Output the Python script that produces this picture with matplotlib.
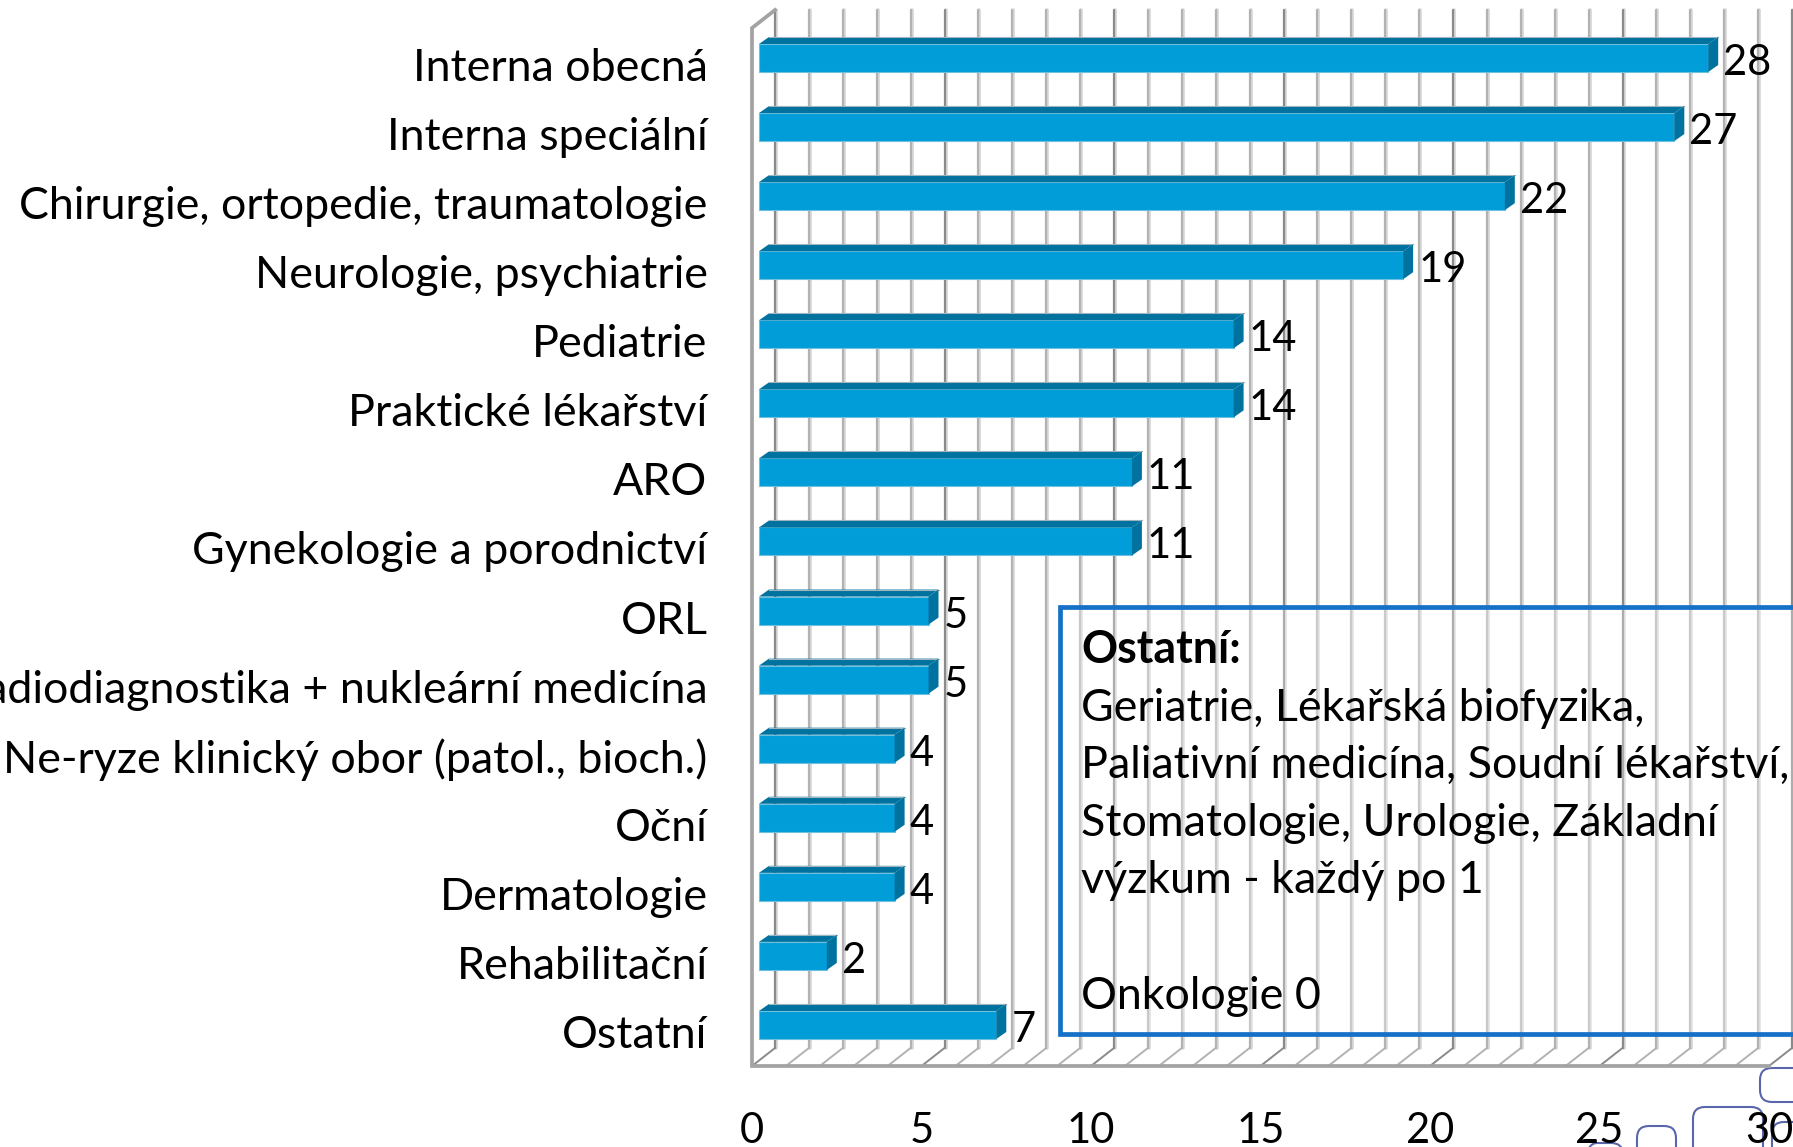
"""Doctors by specialty, pseudo-3D horizontal bars in the Excel style."""

import matplotlib

matplotlib.use("Agg")

import matplotlib.pyplot as plt
from matplotlib.patches import FancyBboxPatch, Rectangle
from matplotlib.transforms import ScaledTranslation

categories = [
    "Interna obecná",
    "Interna speciální",
    "Chirurgie, ortopedie, traumatologie",
    "Neurologie, psychiatrie",
    "Pediatrie",
    "Praktické lékařství",
    "ARO",
    "Gynekologie a porodnictví",
    "ORL",
    "Radiodiagnostika + nukleární medicína",
    "Ne-ryze klinický obor (patol., bioch.)",
    "Oční",
    "Dermatologie",
    "Rehabilitační",
    "Ostatní",
]
values = [28, 27, 22, 19, 14, 14, 11, 11, 5, 5, 4, 4, 4, 2, 7]
x_ticks = [0, 5, 10, 15, 20, 25, 30]
note_title = "Ostatní:"
note_lines = [
    "Geriatrie, Lékařská biofyzika,",
    "Paliativní medicína, Soudní lékařství,",
    "Stomatologie, Urologie, Základní",
    "výzkum - každý po 1",
    "",
    "Onkologie 0",
]

W, H = 1793, 1147
FONT = "Lato"
FS = 32.2
FS_NUM = 30

# plot frame in pixels
LEFT, RIGHT, TOP, FLOOR = 752, 1769, 28, 1066
UNIT_X = (RIGHT - LEFT) / 30
UNIT_Y = 69.07
FIRST_Y = 58

fig = plt.figure(figsize=(W / 100, H / 100), dpi=100, facecolor="white")
plt.rcParams["font.family"] = FONT


def overlay(z):
    o = fig.add_axes([0, 0, 1, 1], zorder=z)
    o.set_xlim(0, W)
    o.set_ylim(H, 0)
    o.axis("off")
    return o


under = overlay(0)
over = overlay(2)

ax = fig.add_axes(
    [LEFT / W, 1 - FLOOR / H, (RIGHT - LEFT) / W, (FLOOR - TOP) / H], zorder=1
)
ax.patch.set_visible(False)
y_top = -(FIRST_Y - TOP) / UNIT_Y
y_floor = 14 + (FLOOR - (FIRST_Y + 14 * UNIT_Y)) / UNIT_Y
ax.set_xlim(0, 30)
ax.set_ylim(y_floor, y_top)
for s in ax.spines.values():
    s.set_visible(False)

# walls: back gridlines sit up and to the right of the floor front edge
wall_dx = 23 / UNIT_X
wall_dy = 18 / UNIT_Y
wall_col = "#a3a3a3"
for x in range(31):
    major = x % 5 == 0
    core = "#8a8a8a" if major else "#b2b2b2"
    xb = x + wall_dx
    ax.plot([xb + 0.03, xb + 0.03], [y_top - wall_dy, y_floor - wall_dy], color="#d6d6d6",
            lw=2.6, clip_on=False, zorder=1, solid_capstyle="round")
    ax.plot([xb, xb], [y_top - wall_dy, y_floor - wall_dy], color=core,
            lw=1.6, clip_on=False, zorder=1.1, solid_capstyle="round")
    ax.plot([x, xb], [y_floor, y_floor - wall_dy], color=core,
            lw=1.4, clip_on=False, zorder=1.1)

ax.plot([wall_dx, 0, 0, 30], [y_top - wall_dy, y_top, y_floor, y_floor],
        color=wall_col, lw=2.7, clip_on=False, zorder=1.2, solid_joinstyle="miter")

# bars: flat front plus two darker faces for the 3D look
bar_h = 28 / UNIT_Y
start = 7 / UNIT_X
dx = 10 / UNIT_X
dy = 7 / UNIT_Y
for i, v in enumerate(values):
    yb = i - bar_h / 2
    ye = i + bar_h / 2
    xe = start + v
    ax.barh(i, v, height=bar_h, left=start, color="#009DD9", edgecolor="#6fc0dd",
            linewidth=0.8, zorder=3)
    ax.fill([start, start + dx, xe + dx, xe], [yb, yb - dy, yb - dy, yb],
            color="#00729F", lw=0, zorder=3)
    ax.plot([start + dx, xe + dx], [yb - dy, yb - dy], color="#9fb4bf", lw=0.8, zorder=3)
    ax.fill([xe, xe + dx, xe + dx, xe], [yb, yb - dy, ye - dy, ye],
            color="#00729F", lw=0, zorder=3)
    ax.text(xe + dx + 5 / UNIT_X, i + 5 / UNIT_Y, str(v), fontsize=FS_NUM, color="black",
            va="center", ha="left", family=FONT, zorder=4)

ax.set_xticks(x_ticks)
ax.set_xticklabels([str(t) for t in x_ticks], fontsize=FS_NUM, family=FONT)
ax.tick_params(axis="x", length=0, pad=33)
ax.set_yticks(range(len(categories)))
ax.set_yticklabels(categories, fontsize=FS, family=FONT)
ax.tick_params(axis="y", length=0, pad=32)
shift = ScaledTranslation(0, -6.5 / 100, fig.dpi_scale_trans)
for lab in ax.get_yticklabels():
    lab.set_va("center_baseline")
    lab.set_transform(lab.get_transform() + shift)

# note box, runs off the right edge and lets the grid show through
over.add_patch(Rectangle((1060, 607), 800, 427, facecolor=(1, 1, 1, 0.3),
                         edgecolor="#1570C8", lw=3.4))
over.text(1081, 663, note_title, fontsize=FS, fontweight="bold", family=FONT, va="baseline")
for k, line in enumerate(note_lines, start=1):
    over.text(1081, 663 + k * 57.6, line, fontsize=FS, family=FONT, va="baseline")

# corner of the slide logo
for x, y, w, h in [(1585, 1143, 38, 40), (1637, 1126, 39, 60), (1693, 1107, 70, 80),
                   (1760, 1068, 80, 34), (1772, 1122, 60, 60)]:
    under.add_patch(FancyBboxPatch((x + 8, y + 8), w - 16, h - 16,
                                   boxstyle="round,pad=8,rounding_size=12",
                                   fill=False, edgecolor="#5a66aa", lw=1.5))

fig.savefig("out.png", dpi=100)
